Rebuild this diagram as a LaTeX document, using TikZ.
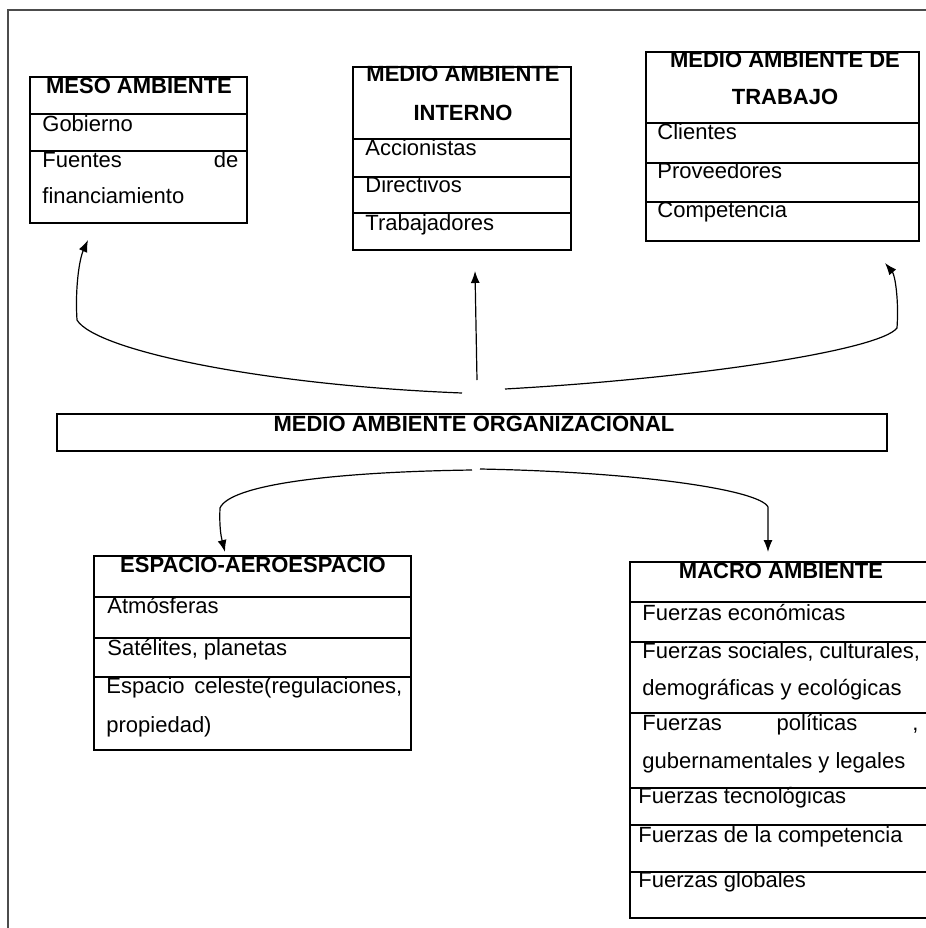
\documentclass[tikz,border=0pt]{standalone}
\usepackage{fontspec}
\setmainfont{Liberation Sans}
\usetikzlibrary{arrows.meta,fit}

\newcommand{\diagfont}{\fontsize{11}{12}\selectfont}

\begin{document}
\begin{tikzpicture}
        [x=0.5pt, y=-0.5pt,
        box/.style={draw, line width=0.8pt, inner sep=0pt},
        row/.style={line width=0.8pt},
        head/.style={font=\diagfont\bfseries, inner sep=0pt, anchor=base},
        item/.style={font=\diagfont, inner sep=0pt, anchor=base west},
        link/.style={line width=0.6pt, -{Latex[length=6pt,width=4.5pt]}}]

        \useasboundingbox (0,0) rectangle (926,928);
        \clip (0,0) rectangle (926,928);

        % outer frame (cut at right and bottom)
        \draw[line width=1.2pt, black!70] (8,928) -- (8,10) -- (926,10);

        % boxes
        \node[box, fit={(30,77) (247,223)}] (meso) {};
        \node[box, fit={(353,67) (571,250)}] (interno) {};
        \node[box, fit={(646,52) (919,241)}] (trabajo) {};
        \node[box, fit={(57,414) (887,451)}] (org) {};
        \node[box, fit={(94,556) (411,750)}] (espacio) {};
        \node[box, fit={(630,562) (932,918)}] (macro) {};

        % row lines
        \draw[row] (30,114) -- (247,114);
        \draw[row] (30,151) -- (247,151);
        \draw[row] (353,139) -- (571,139);
        \draw[row] (353,177) -- (571,177);
        \draw[row] (353,213) -- (571,213);
        \draw[row] (646,123) -- (919,123);
        \draw[row] (646,163) -- (919,163);
        \draw[row] (646,202) -- (919,202);
        \draw[row] (94,597) -- (411,597);
        \draw[row] (94,638) -- (411,638);
        \draw[row] (94,677) -- (411,677);
        \foreach \y in {602,642,713,788,825,872}
            \draw[row] (630,\y) -- (932,\y);

        % meso ambiente
        \node[head] (mesoh) at (139,93) {MESO AMBIENTE};
        \node[item] (gob) at (42,131) {Gobierno};
        \node[item, text width=98pt] (fuen) at (42,167) {Fuentes\hfill de};
        \node[item] (fin) at (42,203) {financiamiento};

        % medio ambiente interno
        \node[head] (inth1) at (463,81) {MEDIO AMBIENTE};
        \node[head] (inth2) at (463,120) {INTERNO};
        \node[item] (acc) at (365,155) {Accionistas};
        \node[item] (dir) at (365,192) {Directivos};
        \node[item] (trab) at (365,230) {Trabajadores};

        % medio ambiente de trabajo
        \node[head] (trah1) at (785,67) {MEDIO AMBIENTE DE};
        \node[head] (trah2) at (785,104) {TRABAJO};
        \node[item] (cli) at (657,139) {Clientes};
        \node[item] (prov) at (657,178) {Proveedores};
        \node[item] (comp) at (657,217) {Competencia};

        % organizacional
        \node[head] (orgh) at (474,431) {MEDIO AMBIENTE ORGANIZACIONAL};

        % espacio-aeroespacio
        \node[head] (esph) at (253,572) {ESPACIO-AEROESPACIO};
        \node[item] (atm) at (107,613) {Atmósferas};
        \node[item] (sat) at (107,655) {Satélites, planetas};
        \node[item, text width=148pt] (cel) at (106,693) {Espacio\hfill celeste(regulaciones,};
        \node[item] (prop) at (106,732) {propiedad)};

        % macro ambiente
        \node[head] (mach) at (781,578) {MACRO AMBIENTE};
        \node[item] (eco) at (642,620) {Fuerzas económicas};
        \node[item] (soc) at (642,658) {Fuerzas sociales, culturales,};
        \node[item] (dem) at (642,695) {demográficas y ecológicas};
        \node[item, text width=138pt] (pol) at (642,730) {Fuerzas\hfill políticas\hfill ,};
        \node[item] (gub) at (642,768) {gubernamentales y legales};
        \node[item] (tec) at (638,803) {Fuerzas tecnológicas};
        \node[item] (fcomp) at (638,842) {Fuerzas de la competencia};
        \node[item] (glob) at (638,887) {Fuerzas globales};

        % arrow ends
        \coordinate (orgl) at (462,393);
        \coordinate (orgm) at (477,380);
        \coordinate (orgr) at (505,389);
        \coordinate (orgdl) at (472,470);
        \coordinate (orgdr) at (480,469);
        \coordinate (tipmeso) at (88,240);
        \coordinate (tipint) at (475,271);
        \coordinate (tiptra) at (885,263);
        \coordinate (tipesp) at (225,552);
        \coordinate (tipmac) at (768,552);

        % connectors
        \draw[link] (orgl) .. controls (260,385) and (95,350) .. (77,320)
            .. controls (75,290) and (79,260) .. (tipmeso);
        \draw[link] (orgm) -- (tipint);
        \draw[link] (orgr) .. controls (700,378) and (880,350) .. (897,328)
            .. controls (899,300) and (895,275) .. (tiptra);
        \draw[link] (orgdl) .. controls (330,472) and (230,485) .. (220,508)
            .. controls (219,530) and (222,540) .. (tipesp);
        \draw[link] (orgdr) .. controls (640,472) and (760,490) .. (768,507)
            -- (tipmac);

\end{tikzpicture}
\end{document}
